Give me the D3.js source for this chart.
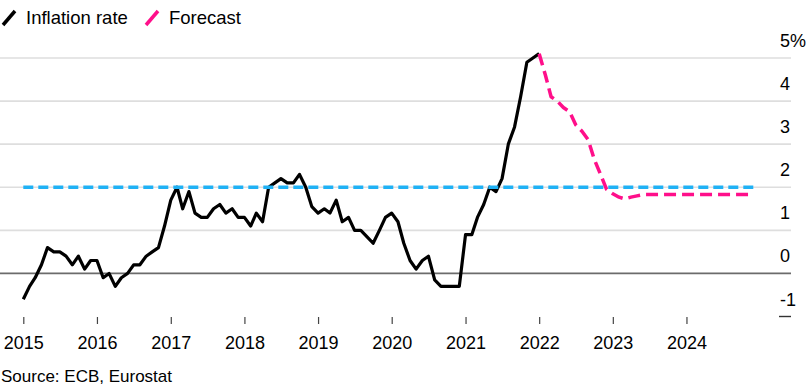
<!DOCTYPE html>
<html>
<head>
<meta charset="utf-8">
<script src="https://cdn.jsdelivr.net/npm/d3@7"></script>
<style>
body { margin: 0; background: #fff; }
svg text { font-family: "Liberation Sans", Arial, sans-serif; fill: #000; }
</style>
</head>
<body>
<div id="chart"></div>
<script>
// monthly euro area inflation, % y/y, starting Jan 2015
var startMonth = "2015-01";
var inflation = [
  -0.6, -0.3, -0.1, 0.2, 0.6, 0.5, 0.5, 0.4, 0.2, 0.4, 0.1, 0.3,
  0.3, -0.1, 0.0, -0.3, -0.1, 0.0, 0.2, 0.2, 0.4, 0.5, 0.6, 1.1,
  1.7, 2.0, 1.5, 1.9, 1.4, 1.3, 1.3, 1.5, 1.6, 1.4, 1.5, 1.3,
  1.3, 1.1, 1.4, 1.2, 2.0, 2.1, 2.2, 2.1, 2.1, 2.3, 2.0, 1.55,
  1.4, 1.5, 1.4, 1.7, 1.2, 1.3, 1.0, 1.0, 0.85, 0.7, 1.0, 1.3,
  1.4, 1.2, 0.7, 0.3, 0.1, 0.3, 0.4, -0.15, -0.3, -0.3, -0.3, -0.3,
  0.9, 0.9, 1.3, 1.6, 2.0, 1.9, 2.2, 3.0, 3.4, 4.1, 4.9, 5.0,
  5.1
];

// ECB forecast path, monthly from Jan 2022
var forecastStart = "2022-01";
var forecast = [
  5.1, 4.6, 4.1, 4.0, 3.85, 3.75, 3.45, 3.3, 3.1, 2.65, 2.3, 1.95,
  1.85, 1.77, 1.73, 1.77, 1.8, 1.83, 1.83, 1.83, 1.83, 1.83, 1.83, 1.83,
  1.83, 1.83, 1.83, 1.83, 1.83, 1.83, 1.83, 1.83, 1.83, 1.83, 1.83, 1.83
];

// 2% target
var targetValue = 2;
var targetSpan = ["2015-01", "2024-12"];

var years = [2015, 2016, 2017, 2018, 2019, 2020, 2021, 2022, 2023, 2024];
var yTicks = [-1, 0, 1, 2, 3, 4, 5];
var yLabels = ["-1", "0", "1", "2", "3", "4", "5%"];
var legendNames = ["Inflation rate", "Forecast"];
var sourceText = "Source: ECB, Eurostat";

var W = 812, H = 387;
var parseMonth = d3.utcParse("%Y-%m");

var svg = d3.select("#chart")
  .append("svg")
  .attr("width", W)
  .attr("height", H);

var x = d3.scaleUtc()
  .domain([new Date(Date.UTC(2015, 0, 1)), new Date(Date.UTC(2025, 0, 1))])
  .range([23.3, 760.3]);

var y = d3.scaleLinear()
  .domain([-1, 5])
  .range([316.5, 58]);

function monthly(start, values) {
  var d0 = parseMonth(start);
  return values.map(function(v, i) {
    return {date: d3.utcMonth.offset(d0, i), value: v};
  });
}

var actualData = monthly(startMonth, inflation);
var forecastData = monthly(forecastStart, forecast);
var targetData = targetSpan.map(function(m) { return {date: parseMonth(m), value: targetValue}; });

// grid lines
svg.append("g")
  .selectAll("line")
  .data(yTicks.filter(function(d) { return d !== -1; }))
  .enter()
  .append("line")
    .attr("x1", 0)
    .attr("x2", 791)
    .attr("y1", function(d) { return y(d); })
    .attr("y2", function(d) { return y(d); })
    .style("stroke", function(d) { return d === 0 ? "#6b6b6b" : "#dedede"; })
    .style("stroke-width", 1.6);

// short tick for -1
svg.append("line")
  .attr("x1", 779)
  .attr("x2", 791)
  .attr("y1", y(-1))
  .attr("y2", y(-1))
  .style("stroke", "#333")
  .style("stroke-width", 1.4);

// y labels
svg.append("g")
  .selectAll("text")
  .data(yTicks)
  .enter()
  .append("text")
    .attr("x", 780)
    .attr("y", function(d) { return y(d) - 11; })
    .style("font-size", "18px")
    .text(function(d, i) { return yLabels[i]; });

// x axis
var xAxis = svg.append("g")
  .attr("transform", "translate(0,317)")
  .call(d3.axisBottom(x)
    .tickValues(years.map(function(yr) { return new Date(Date.UTC(yr, 0, 1)); }))
    .tickFormat(d3.utcFormat("%Y"))
    .tickSize(7)
    .tickPadding(12));
xAxis.select(".domain").remove();
xAxis.selectAll(".tick line").style("stroke", "#444").style("stroke-width", 1.2);
xAxis.selectAll(".tick text")
  .style("font-size", "18px")
  .style("font-family", "'Liberation Sans', Arial, sans-serif")
  .style("fill", "#000");

var line = d3.line()
  .x(function(d) { return x(d.date); })
  .y(function(d) { return y(d.value); });

svg.append("path")
  .datum(actualData)
  .attr("d", line)
  .style("fill", "none")
  .style("stroke", "#000")
  .style("stroke-width", 3.2)
  .style("stroke-linejoin", "round");

svg.append("path")
  .datum(forecastData)
  .attr("d", line)
  .style("fill", "none")
  .style("stroke", "#ff0f8a")
  .style("stroke-width", 3.5)
  .style("stroke-dasharray", "12,6")
  .style("stroke-linejoin", "round");

svg.append("path")
  .datum(targetData)
  .attr("d", line)
  .style("fill", "none")
  .style("stroke", "#1fb1f5")
  .style("stroke-width", 3.5)
  .style("stroke-dasharray", "10,5");

// legend
var legendX = [3, 146];
var legendColors = ["#000", "#ff0f8a"];
var legend = svg.append("g")
  .selectAll("g")
  .data(legendNames)
  .enter()
  .append("g")
    .attr("transform", function(d, i) { return "translate(" + legendX[i] + ",0)"; });
legend.append("line")
  .attr("x1", 0).attr("y1", 25)
  .attr("x2", 12).attr("y2", 11)
  .style("stroke", function(d, i) { return legendColors[i]; })
  .style("stroke-width", 3.5);
legend.append("text")
  .attr("x", 23)
  .attr("y", 24)
  .style("font-size", "18.5px")
  .text(function(d) { return d; });

// source
svg.append("text")
  .attr("x", 1)
  .attr("y", 382)
  .style("font-size", "17px")
  .text(sourceText);
</script>
</body>
</html>
